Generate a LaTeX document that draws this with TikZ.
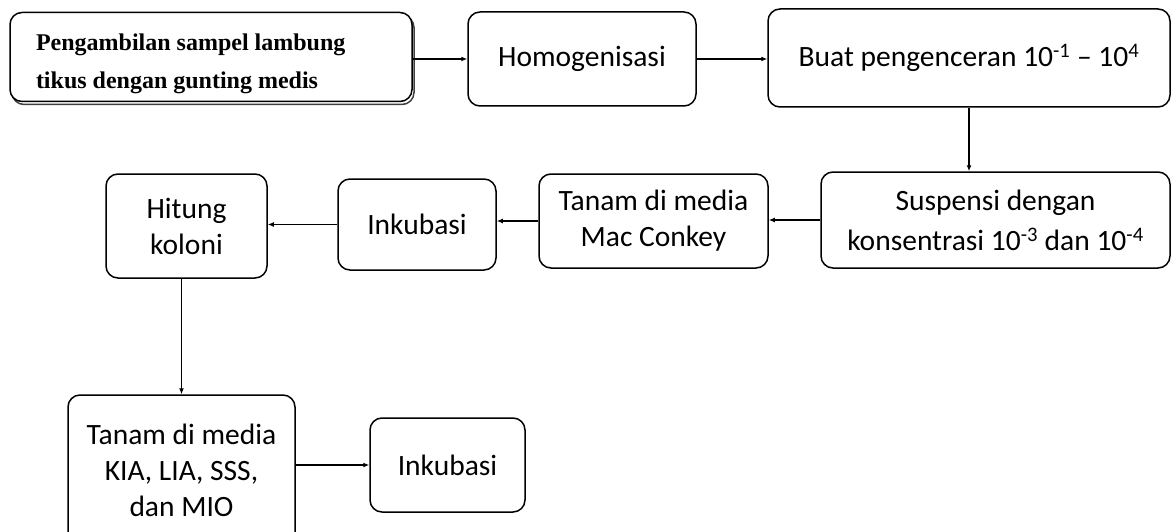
\documentclass[tikz,border=0pt]{standalone}
\usepackage{fontspec}
\setmainfont{Carlito}
\newfontfamily\serifbf{Liberation Serif}
\usepackage{tikz}
\usetikzlibrary{shapes,arrows,arrows.meta,shadows}
\usetikzlibrary{positioning}

\begin{document}
\begin{tikzpicture}[x=1pt,y=1pt,
    box/.style={draw, line width=1.5pt, rounded corners=12pt, fill=white,
        align=center, inner sep=0pt, font=\fontsize{29.5}{36}\selectfont},
    flow/.style={-{Latex[length=6pt,width=5pt]}, line width=1.4pt}]
    \useasboundingbox (0,0) rectangle (1172,-532);
    % top row
    \node[box, minimum width=402, minimum height=89,
        copy shadow={shadow xshift=2pt, shadow yshift=-3pt, draw=black!75},
        font=\serifbf\bfseries\fontsize{24}{38}\selectfont]
        (ambil) at (211,-57) {\parbox{350pt}{\raggedright\vspace*{13pt}Pengambilan sampel lambung\\tikus dengan gunting medis}};
    \node[box, minimum width=228, minimum height=94] (homo) at (582,-59) {Homogenisasi};
    \node[box, minimum width=402, minimum height=98] (buat) at (969,-58)
        {Buat pengenceran 10\textsuperscript{-1} -- 10\textsuperscript{4}};
    % middle row
    \node[box, minimum width=349, minimum height=96, font=\fontsize{29.5}{40}\selectfont] (susp) at (995.5,-220)
        {Suspensi dengan\\konsentrasi 10\textsuperscript{-3} dan 10\textsuperscript{-4}};
    \node[box, minimum width=229, minimum height=94] (mac) at (653.5,-221) {Tanam di media\\Mac Conkey};
    \node[box, minimum width=158, minimum height=91] (inku) at (417,-224.5) {Inkubasi};
    \node[box, minimum width=161, minimum height=104] (hitung) at (186.5,-226) {Hitung\\koloni};
    % bottom row
    \node[box, minimum width=227, minimum height=150] (kia) at (181.5,-470)
        {Tanam di media\\KIA, LIA, SSS,\\dan MIO};
    \node[box, minimum width=155, minimum height=94] (inku2) at (447.5,-465) {Inkubasi};

    \draw[flow] (ambil.east |- homo.west) -- (homo.west);
    \draw[flow] (homo.east) -- (homo.east -| buat.west);
    \draw[flow] (buat.south) -- (buat.south |- susp.north);
    \draw[flow] (susp.west) -- (susp.west -| mac.east);
    \draw[flow] (mac.west) -- (mac.west -| inku.east);
    \draw[flow] (inku.west) -- (inku.west -| hitung.east);
    \draw[flow] (kia.north |- hitung.south) -- (kia.north);
    \draw[flow] (kia.east |- inku2.west) -- (inku2.west);
\end{tikzpicture}
\end{document}
